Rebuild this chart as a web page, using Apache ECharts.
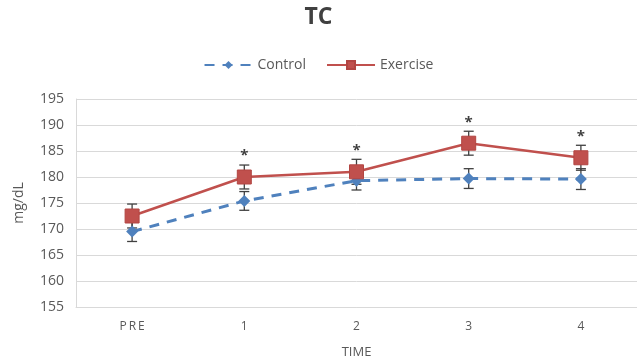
<!DOCTYPE html>
<html>
<head>
<meta charset="utf-8">
<script src="https://cdn.jsdelivr.net/npm/echarts@6/dist/echarts.min.js"></script>
<style>
  html, body { margin: 0; padding: 0; background: #fff; }
  #chart { width: 637px; height: 364px; }
</style>
</head>
<body>
<div id="chart"></div>
<script>
// Total cholesterol by time point, mean ± error
const categories = ['PRE', '1', '2', '3', '4'];
const controlMean = [169.5, 175.4, 179.3, 179.7, 179.6];
const controlErr = [1.9, 1.8, 1.8, 1.9, 2.0];
const exerciseMean = [172.5, 180.0, 181.0, 186.5, 183.7];
const exerciseErr = [2.3, 2.3, 2.4, 2.3, 2.4];
const significance = ['', '*', '*', '*', '*'];
const yTicks = { min: 155, max: 195, step: 5 };

const FONT = '"Open Sans", "DejaVu Sans", sans-serif';
const TEXT = '#595959';
const BLUE = '#4f81bd';
const RED = '#c0504d';
const BAR = '#404040';

function errorBarData(means, errs, marks) {
  return means.map((m, i) => [i, m - errs[i], m + errs[i], marks ? marks[i] : '']);
}

function renderErrorBar(params, api) {
  const x = api.value(0);
  const lo = api.coord([x, api.value(1)]);
  const hi = api.coord([x, api.value(2)]);
  const cap = 5;
  const style = { stroke: BAR, lineWidth: 1.3 };
  const children = [
    { type: 'line', shape: { x1: lo[0], y1: lo[1], x2: hi[0], y2: hi[1] }, style },
    { type: 'line', shape: { x1: lo[0] - cap, y1: lo[1], x2: lo[0] + cap, y2: lo[1] }, style },
    { type: 'line', shape: { x1: hi[0] - cap, y1: hi[1], x2: hi[0] + cap, y2: hi[1] }, style }
  ];
  const mark = api.value(3);
  if (mark) {
    children.push({
      type: 'text',
      style: {
        text: mark, x: hi[0], y: hi[1] - 9,
        align: 'center', verticalAlign: 'middle',
        fill: BAR, font: 'bold 15px ' + FONT
      }
    });
  }
  return { type: 'group', children };
}

const chart = echarts.init(document.getElementById('chart'), null, { renderer: 'canvas' });
chart.setOption({
  animation: false,
  backgroundColor: '#ffffff',
  textStyle: { fontFamily: FONT },
  title: {
    text: 'TC', left: 'center', top: 1,
    textStyle: { fontFamily: FONT, fontSize: 23, fontWeight: 'bold', color: '#404040' }
  },
  legend: {
    top: 53, left: 'center', itemGap: 20, itemWidth: 48, itemHeight: 10,
    data: ['Control', 'Exercise'],
    textStyle: { fontFamily: FONT, fontSize: 14, color: TEXT }
  },
  grid: { left: 76, right: 0, top: 99, bottom: 56, containLabel: false },
  xAxis: {
    type: 'category', data: categories, boundaryGap: true,
    name: 'TIME', nameLocation: 'middle', nameGap: 39,
    nameTextStyle: { fontFamily: FONT, fontSize: 13, color: TEXT },
    axisLine: { show: true, lineStyle: { color: '#d9d9d9', width: 1 } },
    axisTick: { show: false },
    axisLabel: {
      margin: 14, fontFamily: FONT, fontSize: 12, color: TEXT,
      formatter: v => v.split('').join('\u2009')
    },
    splitLine: { show: false }
  },
  yAxis: {
    type: 'value', min: yTicks.min, max: yTicks.max, interval: yTicks.step,
    name: 'mg/dL', nameLocation: 'middle', nameGap: 50, nameRotate: 90,
    nameTextStyle: { fontFamily: FONT, fontSize: 14, color: TEXT },
    axisLine: { show: true, lineStyle: { color: '#d9d9d9', width: 1 } },
    axisTick: { show: false },
    axisLabel: { margin: 12, fontFamily: FONT, fontSize: 14, color: TEXT },
    splitLine: { show: true, lineStyle: { color: '#d9d9d9', width: 1 } }
  },
  series: [
    {
      name: 'Control', type: 'line', data: controlMean, z: 3,
      symbol: 'diamond', symbolSize: 12,
      itemStyle: { color: BLUE },
      lineStyle: { color: BLUE, width: 3, type: [10, 8] }
    },
    {
      name: 'Exercise', type: 'line', data: exerciseMean, z: 4,
      symbol: 'rect', symbolSize: 14,
      itemStyle: { color: RED, borderColor: '#b24542', borderWidth: 1 },
      lineStyle: { color: RED, width: 2.5 }
    },
    {
      name: 'Control error', type: 'custom', z: 2, silent: true,
      renderItem: renderErrorBar,
      encode: { x: 0, y: [1, 2] },
      data: errorBarData(controlMean, controlErr)
    },
    {
      name: 'Exercise error', type: 'custom', z: 2, silent: true,
      renderItem: renderErrorBar,
      encode: { x: 0, y: [1, 2] },
      data: errorBarData(exerciseMean, exerciseErr, significance)
    }
  ]
});
</script>
</body>
</html>
